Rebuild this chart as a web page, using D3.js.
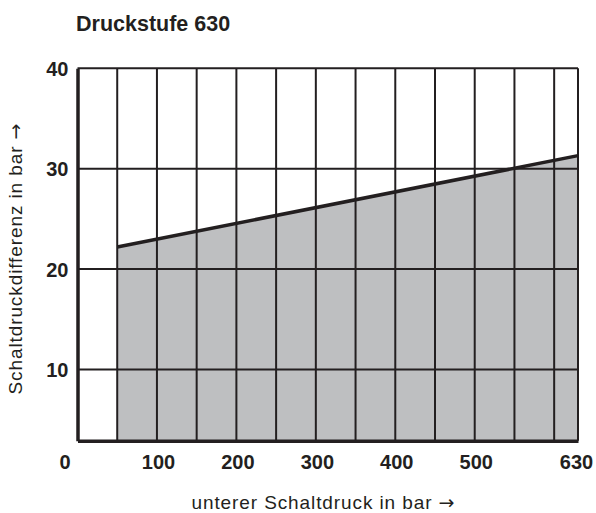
<!DOCTYPE html>
<html><head><meta charset="utf-8">
<script src="https://cdn.jsdelivr.net/npm/d3@7"></script>
<style>body{margin:0;background:#fff}svg{display:block}</style>
</head><body>
<svg id="c" width="596" height="513"></svg>
<script>
const title = "Druckstufe 630";
const xLabel = "unterer Schaltdruck in bar";
const yLabel = "Schaltdruckdifferenz in bar";
const arrow = "\u2192";
const xTickLabels = [0, 100, 200, 300, 400, 500, 630];
const yTickLabels = [10, 20, 30, 40];
const xGrid = [50, 100, 150, 200, 250, 300, 350, 400, 450, 500, 550, 600];
const yGrid = [10, 20, 30];
const pressure = [50, 630];
const difference = [22.2, 31.3];
const xDomain = [0, 630];
const yDomain = [2.9, 40];

const svg = d3.select("#c");
const ink = "#231f20";
const x = d3.scaleLinear().domain(xDomain).range([77.5, 578]);
const y = d3.scaleLinear().domain(yDomain).range([440.7, 68.3]);

const pts = pressure.map((p, i) => ({p, d: difference[i]}));

// fill
svg.append("path").datum(pts)
  .attr("fill", "#bebfc1")
  .attr("d", d3.area().x(d => x(d.p)).y0(y(yDomain[0])).y1(d => y(d.d)));

// grid
svg.append("g").selectAll("line").data(xGrid).join("line")
  .attr("x1", d => x(d)).attr("x2", d => x(d))
  .attr("y1", y(yDomain[0])).attr("y2", y(yDomain[1]))
  .attr("stroke", ink).attr("stroke-width", 2);
svg.append("g").selectAll("line").data(yGrid).join("line")
  .attr("x1", x(xDomain[0])).attr("x2", x(xDomain[1]))
  .attr("y1", d => y(d)).attr("y2", d => y(d))
  .attr("stroke", ink).attr("stroke-width", 2);

// frame
svg.append("line").attr("x1", x(0)).attr("x2", x(630)).attr("y1", y(40)).attr("y2", y(40)).attr("stroke", ink).attr("stroke-width", 2);
svg.append("line").attr("x1", x(630)).attr("x2", x(630)).attr("y1", y(40)).attr("y2", y(yDomain[0])).attr("stroke", ink).attr("stroke-width", 2);

// data line
svg.append("path").datum(pts)
  .attr("fill", "none").attr("stroke", ink).attr("stroke-width", 3.5)
  .attr("d", d3.line().x(d => x(d.p)).y(d => y(d.d)));

// axes
const xAxis = d3.axisBottom(x).tickValues(xTickLabels).tickSize(0).tickPadding(0);
const gx = svg.append("g").attr("transform", `translate(0,${y(yDomain[0])})`).call(xAxis);
gx.select(".domain").attr("stroke", ink).attr("stroke-width", 3.5);
gx.selectAll("text")
  .attr("y", 28).attr("dy", 0)
  .attr("dx", d => d === 0 ? -13 : d === 630 ? -2 : 1)
  .attr("fill", ink).style("font", "bold 20px 'Liberation Sans', Arial, sans-serif");

const yAxis = d3.axisLeft(y).tickValues(yTickLabels).tickSize(0).tickPadding(9);
const gy = svg.append("g").attr("transform", `translate(${x(0)},0)`).call(yAxis);
gy.select(".domain").attr("stroke", ink).attr("stroke-width", 3.5);
gy.selectAll("text").attr("dy", "0.36em")
  .attr("fill", ink).style("font", "bold 20px 'Liberation Sans', Arial, sans-serif");

// titles
svg.append("text").attr("x", 76).attr("y", 30.5).text(title)
  .attr("fill", ink).style("font", "bold 21.5px 'Liberation Sans', Arial, sans-serif");

function axisTitle(sel, label) {
  sel.attr("fill", ink).attr("text-anchor", "middle")
    .style("font", "19px 'Liberation Sans', Arial, sans-serif")
    .style("letter-spacing", "0.9px");
  sel.append("tspan").text(label + " ");
  sel.append("tspan").text(arrow).style("font-family", "'DejaVu Sans', sans-serif").style("letter-spacing", "0px");
}
svg.append("text").attr("x", 323).attr("y", 508.5).call(axisTitle, xLabel);
svg.append("text").attr("transform", "translate(22,259) rotate(-90)").call(axisTitle, yLabel);
</script>
</body></html>
